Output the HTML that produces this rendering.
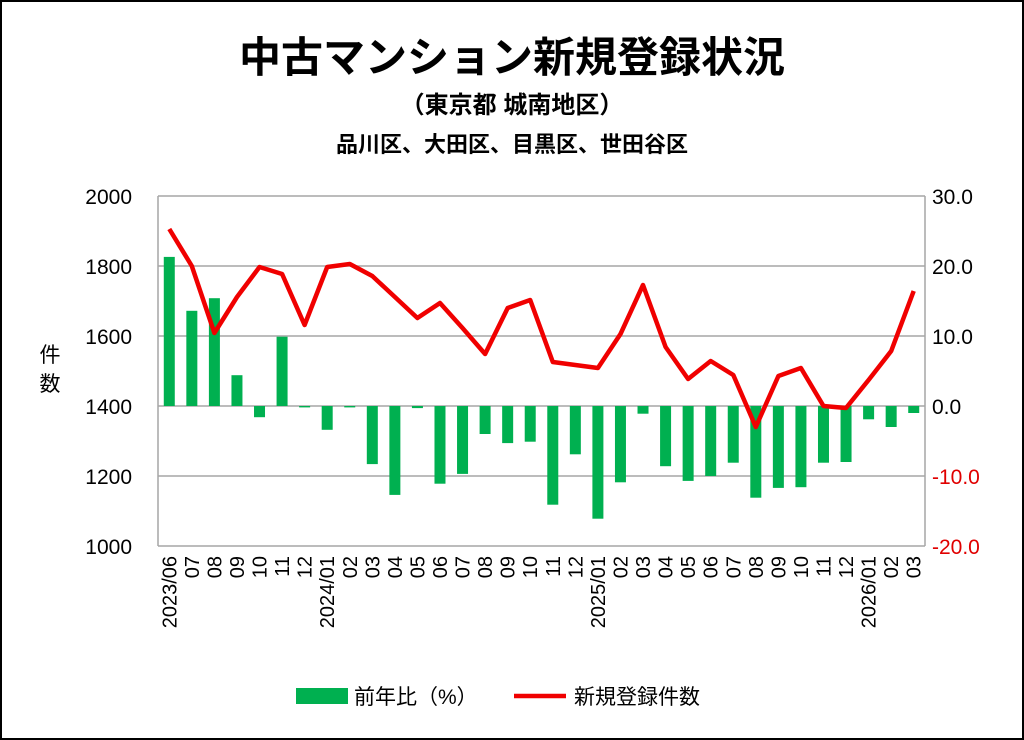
<!DOCTYPE html>
<html><head><meta charset="utf-8"><style>
html,body{margin:0;padding:0;background:#fff}
svg{display:block}
text{font-family:"Liberation Sans","Noto Sans CJK JP",sans-serif}
</style></head><body>
<svg width="1024" height="740" viewBox="0 0 1024 740" xmlns="http://www.w3.org/2000/svg">
<rect x="1" y="1" width="1022" height="738" fill="#fff" stroke="#000" stroke-width="2"/>
<text x="512" y="72" font-size="42" font-weight="bold" text-anchor="middle">中古マンション新規登録状況</text>
<text x="512" y="113" font-size="24" font-weight="bold" text-anchor="middle">（東京都 城南地区）</text>
<text x="512" y="152" font-size="22" font-weight="bold" text-anchor="middle">品川区、大田区、目黒区、世田谷区</text>
<g stroke="#a6a6a6" stroke-width="1.5">
<line x1="158" y1="196" x2="925" y2="196"/><line x1="158" y1="266" x2="925" y2="266"/>
<line x1="158" y1="336" x2="925" y2="336"/><line x1="158" y1="406" x2="925" y2="406"/>
<line x1="158" y1="476" x2="925" y2="476"/><line x1="158" y1="546" x2="925" y2="546"/>
<line x1="158" y1="196" x2="158" y2="546"/><line x1="925" y1="196" x2="925" y2="546"/>
</g>
<g font-size="21" text-anchor="end">
<text x="132" y="204">2000</text><text x="132" y="274">1800</text><text x="132" y="344">1600</text>
<text x="132" y="414">1400</text><text x="132" y="484">1200</text><text x="132" y="554">1000</text>
</g>
<g font-size="21" text-anchor="start">
<text x="932" y="204">30.0</text><text x="932" y="274">20.0</text><text x="932" y="344">10.0</text>
<text x="932" y="414">0.0</text>
<text x="932" y="484" fill="#e00000">-10.0</text><text x="932" y="554" fill="#e00000">-20.0</text>
</g>
<text x="50" y="362" font-size="21" text-anchor="middle">件</text>
<text x="50" y="391" font-size="21" text-anchor="middle">数</text>
<g id="bars" fill="#00b050"></g>
<polyline id="line" fill="none" stroke="#f00000" stroke-width="4.5" stroke-linejoin="round"/>
<g id="xl" font-size="20"></g>
<rect x="296" y="688" width="52" height="16" fill="#00b050"/>
<text x="354" y="704" font-size="21">前年比（%）</text>
<line x1="514" y1="696" x2="566" y2="696" stroke="#f00000" stroke-width="4.5"/>
<text x="574" y="704" font-size="21">新規登録件数</text>
</svg>
<script>
var bars=[21.3,13.6,15.4,4.4,-1.6,9.9,-0.2,-3.4,-0.2,-8.3,-12.7,-0.3,-11.1,-9.7,-4,-5.3,-5.1,-14.1,-6.9,-16.1,-10.9,-1.1,-8.6,-10.7,-10,-8.1,-13.1,-11.7,-11.6,-8.1,-8,-1.9,-3,-1];
var ly=[229,266,333,297,267,274,325,267,264,276,297,318,303,328,354,308,300,362,365,368,334,285,347,379,361,375,427,376,368,406,408,380,351,291];
var lab=["2023/06","07","08","09","10","11","12","2024/01","02","03","04","05","06","07","08","09","10","11","12","2025/01","02","03","04","05","06","07","08","09","10","11","12","2026/01","02","03"];
var ns="http://www.w3.org/2000/svg",w=(925-158)/34,g=document.getElementById('bars'),xl=document.getElementById('xl'),pts=[];
for(var i=0;i<34;i++){var cx=158+w*(i+0.5);var v=bars[i]*7;var r=document.createElementNS(ns,'rect');
r.setAttribute('x',cx-5.5);r.setAttribute('width',11);r.setAttribute('y',v>0?406-v:406);r.setAttribute('height',Math.max(Math.abs(v),1));g.appendChild(r);
pts.push(cx.toFixed(1)+','+ly[i]);
var t=document.createElementNS(ns,'text');t.setAttribute('transform','translate('+(cx+7)+',556) rotate(-90)');t.setAttribute('text-anchor','end');t.textContent=lab[i];xl.appendChild(t);}
document.getElementById('line').setAttribute('points',pts.join(' '));
</script>
</body></html>
